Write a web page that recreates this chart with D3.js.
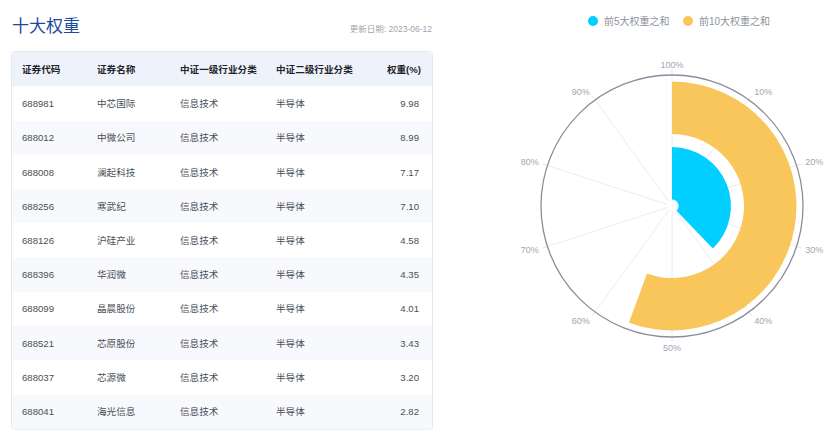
<!DOCTYPE html>
<html>
<head>
	<meta charset="utf-8">
	<title>十大权重</title>
	<style>
		body {
			margin: 0;
			background: #fff;
			font-family: "Liberation Sans", Arial, "Noto Sans CJK SC", sans-serif;
		}
		svg text {
			font-family: "Liberation Sans", Arial, "Noto Sans CJK SC", sans-serif;
		}
	</style>
</head>
<body>
	<div id="drawing"></div>

	<script src="https://cdnjs.cloudflare.com/ajax/libs/d3/7.8.5/d3.min.js"></script>
	<script>
	// Data
	var headers    = ["证券代码", "证券名称", "中证一级行业分类", "中证二级行业分类", "权重(%)"]
	var codes      = ["688981", "688012", "688008", "688256", "688126", "688396", "688099", "688521", "688037", "688041"]
	var names      = ["中芯国际", "中微公司", "澜起科技", "寒武纪", "沪硅产业", "华润微", "晶晨股份", "芯原股份", "芯源微", "海光信息"]
	var industry1  = ["信息技术", "信息技术", "信息技术", "信息技术", "信息技术", "信息技术", "信息技术", "信息技术", "信息技术", "信息技术"]
	var industry2  = ["半导体", "半导体", "半导体", "半导体", "半导体", "半导体", "半导体", "半导体", "半导体", "半导体"]
	var weights    = [9.98, 8.99, 7.17, 7.10, 4.58, 4.35, 4.01, 3.43, 3.20, 2.82]
	var sumLabels  = ["前5大权重之和", "前10大权重之和"]
	var sumValues  = [37.82, 55.63]
	var angleTicks = [0, 10, 20, 30, 40, 50, 60, 70, 80, 90]
	var updateDate = "2023-06-12"

	// Settings
	var width  = 830,
		height = 434,
		colors = ["#00cfff", "#f8c65a"]

	var svg = d3.select("#drawing").append("svg")
		.attr("width", width)
		.attr("height", height)

	// Title
	svg.append("text")
		.attr("x", 12).attr("y", 32)
		.attr("fill", "#1d4b9c")
		.style("font-size", "17px")
		.style("font-family", "'Noto Sans CJK SC', sans-serif")
		.text("十大权重")

	svg.append("text")
		.attr("x", 432).attr("y", 32)
		.attr("text-anchor", "end")
		.attr("fill", "#a0a4ac")
		.style("font-size", "8.5px")
		.text("更新日期: " + updateDate)

	// ---- Table ----
	var tableX = 12, tableY = 52, tableW = 420,
		headH = 34.7, rowH = 34.2
	var colX = [22, 97, 180, 276, 421]
	var colAnchor = ["start", "start", "start", "start", "end"]

	var table = svg.append("g")

	table.append("rect")
		.attr("x", tableX - 0.5).attr("y", tableY - 0.5)
		.attr("width", tableW + 1).attr("height", headH + rowH * codes.length + 1)
		.attr("rx", 3)
		.attr("fill", "#fff")
		.attr("stroke", "#e3e7ee")

	table.append("rect")
		.attr("x", tableX).attr("y", tableY)
		.attr("width", tableW).attr("height", headH)
		.attr("fill", "#eef3fb")

	table.selectAll(".head")
		.data(headers)
		.join("text")
		.attr("class", "head")
		.attr("x", function(d, i){ return colX[i] })
		.attr("y", tableY + headH / 2)
		.attr("dy", "0.35em")
		.attr("text-anchor", function(d, i){ return colAnchor[i] })
		.attr("fill", "#1f2329")
		.style("font-size", "9.6px")
		.style("font-weight", "bold")
		.text(function(d){ return d })

	var rows = table.selectAll(".row")
		.data(codes.map(function(c, i){
			return [c, names[i], industry1[i], industry2[i], weights[i].toFixed(2)]
		}))
		.join("g")
		.attr("class", "row")
		.attr("transform", function(d, i){ return "translate(0," + (tableY + headH + i * rowH) + ")" })

	rows.append("rect")
		.attr("x", tableX).attr("width", tableW)
		.attr("height", rowH)
		.attr("fill", function(d, i){ return i % 2 ? "#f7f9fc" : "#fff" })

	rows.selectAll("text")
		.data(function(d){ return d })
		.join("text")
		.attr("x", function(d, i){ return i === 4 ? colX[i] - 2 : colX[i] })
		.attr("y", rowH / 2)
		.attr("dy", "0.35em")
		.attr("text-anchor", function(d, i){ return colAnchor[i] })
		.attr("fill", "#4a4f57")
		.style("font-size", "9.6px")
		.text(function(d){ return d })

	// ---- Legend ----
	var legendX = [593, 688]
	var legend = svg.selectAll(".legend")
		.data(sumLabels)
		.join("g")
		.attr("class", "legend")
		.attr("transform", function(d, i){ return "translate(" + legendX[i] + ",21)" })

	legend.append("circle")
		.attr("r", 5)
		.attr("fill", function(d, i){ return colors[i] })

	legend.append("text")
		.attr("x", 11)
		.attr("dy", "0.35em")
		.attr("fill", "#8e939c")
		.style("font-size", "10px")
		.text(function(d){ return d })

	// ---- Polar bar chart ----
	var cx = 672, cy = 206, outerR = 131

	var angle = d3.scaleLinear().domain([0, 100]).range([0, 2 * Math.PI])
	var radius = d3.scaleBand().domain(sumLabels).range([0, outerR])
		.paddingInner(0.2).paddingOuter(0.1)

	var polar = svg.append("g").attr("transform", "translate(" + cx + "," + cy + ")")

	// split lines
	polar.selectAll(".split")
		.data(angleTicks)
		.join("line")
		.attr("class", "split")
		.attr("x1", 0).attr("y1", 0)
		.attr("x2", function(d){ return outerR * Math.sin(angle(d)) })
		.attr("y2", function(d){ return -outerR * Math.cos(angle(d)) })
		.attr("stroke", "#ececf0")
		.attr("stroke-width", 1)

	// axis ticks outside
	polar.selectAll(".tick")
		.data(angleTicks)
		.join("line")
		.attr("class", "tick")
		.attr("x1", function(d){ return outerR * Math.sin(angle(d)) })
		.attr("y1", function(d){ return -outerR * Math.cos(angle(d)) })
		.attr("x2", function(d){ return (outerR + 5) * Math.sin(angle(d)) })
		.attr("y2", function(d){ return -(outerR + 5) * Math.cos(angle(d)) })
		.attr("stroke", "#e4e4ea")

	polar.append("circle")
		.attr("r", 5)
		.attr("fill", "#fff")

	// bars
	var arc = d3.arc()
		.innerRadius(function(d, i){ return radius(sumLabels[i]) })
		.outerRadius(function(d, i){ return radius(sumLabels[i]) + radius.bandwidth() })
		.startAngle(0)
		.endAngle(function(d){ return angle(d) })

	polar.selectAll(".bar")
		.data(sumValues)
		.join("path")
		.attr("class", "bar")
		.attr("d", function(d, i){ return arc(d, i) })
		.attr("fill", function(d, i){ return colors[i] })

	// outer circle
	polar.append("circle")
		.attr("r", outerR)
		.attr("fill", "none")
		.attr("stroke", "#8c8d9c")
		.attr("stroke-width", 1.3)

	// labels
	var labelR = 140
	polar.selectAll(".alabel")
		.data(angleTicks)
		.join("text")
		.attr("class", "alabel")
		.attr("x", function(d){ return labelR * Math.sin(angle(d)) })
		.attr("y", function(d){ return -labelR * Math.cos(angle(d)) - 1.5 * Math.cos(angle(d)) })
		.attr("dy", "0.35em")
		.attr("text-anchor", function(d){
			var s = Math.sin(angle(d))
			return Math.abs(s) < 0.01 ? "middle" : (s > 0 ? "start" : "end")
		})
		.attr("fill", "#a3a6b0")
		.style("font-size", "9px")
		.text(function(d){ return (d === 0 ? 100 : d) + "%" })

	</script>
</body>
</html>
